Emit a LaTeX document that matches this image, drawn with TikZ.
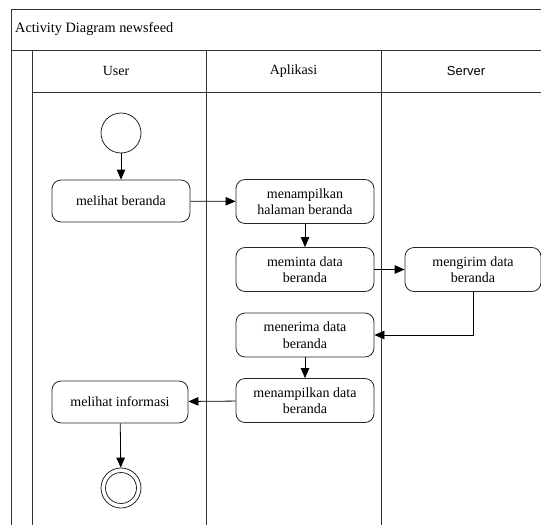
\documentclass[tikz,border=0pt]{standalone}
\usepackage{fontspec}
\setmainfont{Liberation Serif}
\newfontfamily\lanesans{Liberation Sans}
\usetikzlibrary{arrows.meta}
\begin{document}
\begin{tikzpicture}[x=1pt,y=-1pt,
  frame/.style={draw=black!80,line width=0.9pt},
  act/.style={draw=black!85,line width=0.8pt,rounded corners=9pt,minimum width=138pt,minimum height=44pt,align=center,font=\fontsize{14}{16.5}\selectfont,inner sep=2pt},
  startnode/.style={circle,draw=black!85,line width=0.8pt,minimum size=40pt,inner sep=0pt},
  flow/.style={draw=black,line width=0.8pt,-{Triangle[length=10pt,width=8.5pt]}},
  lanehead/.style={font=\fontsize{14}{16}\selectfont}]
\useasboundingbox (0,0) rectangle (541,525);
% frame and swimlanes
\draw[frame] (11,525) -- (11,9) -- (541,9);
\draw[frame] (11,50) -- (541,50);
\draw[frame] (32,92) -- (541,92);
\draw[frame] (32,50) -- (32,525);
\draw[frame] (206,50) -- (206,525);
\draw[frame] (381,50) -- (381,525);
\node[anchor=west,font=\fontsize{14.3}{16}\selectfont,inner sep=0pt] (title) at (15,29) {Activity Diagram newsfeed};
\node[lanehead] (lUser) at (116,71) {User};
\node[lanehead] (lApp) at (293.5,71) {Aplikasi};
\node[lanehead,font=\lanesans\fontsize{13}{15}\selectfont] (lServer) at (466,71) {Server};
% activities
\node[startnode] (start) at (121,133) {};
\node[act,minimum height=42pt] (a1) at (121,201) {melihat beranda};
\node[act] (a2) at (305,201.5) {menampilkan\\halaman beranda};
\node[act] (a3) at (305,269.5) {meminta data\\beranda};
\node[act,minimum width=136pt] (a4) at (473,269.5) {mengirim data\\beranda};
\node[act] (a5) at (305,335) {menerima data\\beranda};
\node[act] (a6) at (305,400.5) {menampilkan data\\beranda};
\node[act,minimum width=136pt,minimum height=42pt] (a7) at (120,402) {melihat informasi};
\node[startnode,minimum size=40pt] (stop) at (121,488) {};
\node[circle,draw=black!85,line width=0.8pt,minimum size=31pt,inner sep=0pt] (stopin) at (stop) {};
% flows
\draw[flow] (start) -- (a1);
\draw[flow] (a1) -- (a2);
\draw[flow] (a2) -- (a3);
\draw[flow] (a3) -- (a4);
\draw[flow] (a4.south) |- (a5.east);
\draw[flow] (a5) -- (a6);
\draw[flow] (a6) -- (a7);
\draw[flow] (a7) -- (stop);
\end{tikzpicture}
\end{document}
